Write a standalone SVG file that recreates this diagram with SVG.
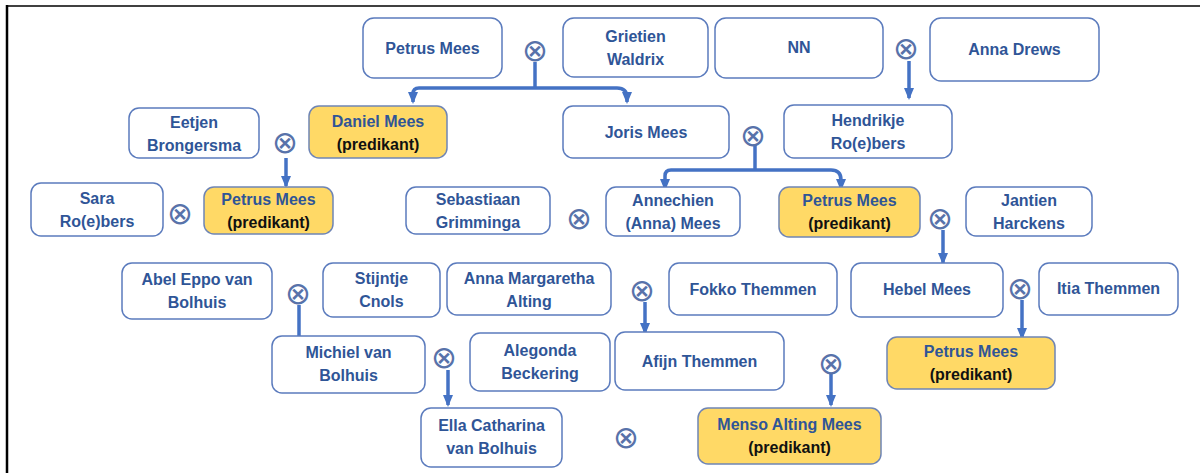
<svg xmlns="http://www.w3.org/2000/svg" width="1200" height="473" viewBox="0 0 1200 473">
<style>
.box{fill:#ffffff;stroke:#5b7bbd;stroke-width:1.5}
.yel{fill:#ffd966;stroke:#6f85b5;stroke-width:1.5}
.t{font-family:"Liberation Sans",Arial,sans-serif;font-weight:bold;font-size:16px;fill:#2f5597;text-anchor:middle;dominant-baseline:central}
.k{fill:#111111}
.x{font-family:"DejaVu Sans",sans-serif;font-weight:200;font-size:31px;fill:#5872aa;text-anchor:middle;dominant-baseline:central}
.c{fill:none;stroke:#4472c4;stroke-width:3.5}
</style>
<defs>
<marker id="ah" markerUnits="userSpaceOnUse" markerWidth="12" markerHeight="10" viewBox="0 0 12 10" refX="10" refY="5" orient="auto">
<path d="M0,0 L12,5 L0,10 z" fill="#4472c4"/>
</marker>
</defs>
<rect width="1200" height="473" fill="#ffffff"/>
<g id="frame">
<line x1="6" y1="6" x2="1200" y2="6" stroke="#000" stroke-width="1.5"/>
<line x1="7" y1="5" x2="7" y2="473" stroke="#000" stroke-width="2.5"/>
</g>
<g id="connectors">
<path class="c" d="M535,62 V88"/>
<path class="c" marker-end="url(#ah)" d="M535,88 H419 Q413,88 413,94 V102"/>
<path class="c" marker-end="url(#ah)" d="M535,88 H617 Q627,88 627,98 V102"/>
<path class="c" marker-end="url(#ah)" d="M909,61 V98"/>
<path class="c" marker-end="url(#ah)" d="M286,158 V186"/>
<path class="c" d="M755,144 V170"/>
<path class="c" marker-end="url(#ah)" d="M755,170 H671 Q665,170 665,176 V189"/>
<path class="c" marker-end="url(#ah)" d="M755,170 H831 Q841,170 841,180 V189"/>
<path class="c" marker-end="url(#ah)" d="M943,230 V263"/>
<path class="c" d="M299,305 V336"/>
<path class="c" marker-end="url(#ah)" d="M645,302 V333"/>
<path class="c" marker-end="url(#ah)" d="M1022,300 V338"/>
<path class="c" marker-end="url(#ah)" d="M448,370 V405"/>
<path class="c" marker-end="url(#ah)" d="M831,374 V405"/>
</g>
<g id="marriages">
<text class="x" x="535" y="50">⊗</text>
<text class="x" x="906" y="48">⊗</text>
<text class="x" x="285" y="142">⊗</text>
<text class="x" x="753" y="135">⊗</text>
<text class="x" x="180" y="213">⊗</text>
<text class="x" x="579" y="218">⊗</text>
<text class="x" x="940" y="218">⊗</text>
<text class="x" x="298" y="293">⊗</text>
<text class="x" x="642" y="290">⊗</text>
<text class="x" x="1020" y="288">⊗</text>
<text class="x" x="444" y="357">⊗</text>
<text class="x" x="831" y="363">⊗</text>
<text class="x" x="626" y="437">⊗</text>
</g>
<g id="petrus-mees-1"><rect class="box" x="363" y="18" width="139" height="60" rx="11"/><text class="t" x="432.5" y="48">Petrus Mees</text></g>
<g id="grietien-waldrix"><rect class="box" x="563" y="18" width="145" height="59" rx="11"/><text class="t" x="635.5" y="36">Grietien</text><text class="t" x="635.5" y="59">Waldrix</text></g>
<g id="nn"><rect class="box" x="715" y="18" width="168" height="60" rx="11"/><text class="t" x="799" y="47">NN</text></g>
<g id="anna-drews"><rect class="box" x="930" y="18" width="169" height="63" rx="11"/><text class="t" x="1014.5" y="49">Anna Drews</text></g>
<g id="daniel-mees"><rect class="yel" x="309" y="106" width="138" height="52" rx="10"/><text class="t" x="378" y="121">Daniel Mees</text><text class="t k" x="378" y="144">(predikant)</text></g>
<g id="eetjen-brongersma"><rect class="box" x="129" y="108" width="130" height="50" rx="10"/><text class="t" x="194" y="122">Eetjen</text><text class="t" x="194" y="145">Brongersma</text></g>
<g id="joris-mees"><rect class="box" x="563" y="106" width="166" height="52" rx="10"/><text class="t" x="646" y="132">Joris Mees</text></g>
<g id="hendrikje-roebers"><rect class="box" x="784" y="105" width="168" height="53" rx="10"/><text class="t" x="868" y="120">Hendrikje</text><text class="t" x="868" y="143">Ro(e)bers</text></g>
<g id="sara-roebers"><rect class="box" x="31" y="183" width="132" height="53" rx="10"/><text class="t" x="97" y="198">Sara</text><text class="t" x="97" y="221">Ro(e)bers</text></g>
<g id="petrus-mees-2"><rect class="yel" x="204" y="187" width="129" height="47" rx="10"/><text class="t" x="268.5" y="199">Petrus Mees</text><text class="t k" x="268.5" y="222">(predikant)</text></g>
<g id="sebastiaan-grimminga"><rect class="box" x="406" y="187" width="144" height="47" rx="10"/><text class="t" x="478" y="199">Sebastiaan</text><text class="t" x="478" y="222">Grimminga</text></g>
<g id="annechien-mees"><rect class="box" x="606" y="187" width="134" height="49" rx="10"/><text class="t" x="673" y="200">Annechien</text><text class="t" x="673" y="223">(Anna) Mees</text></g>
<g id="petrus-mees-3"><rect class="yel" x="779" y="187" width="141" height="50" rx="10"/><text class="t" x="849.5" y="200">Petrus Mees</text><text class="t k" x="849.5" y="223">(predikant)</text></g>
<g id="jantien-harckens"><rect class="box" x="966" y="187" width="126" height="49" rx="10"/><text class="t" x="1029" y="200">Jantien</text><text class="t" x="1029" y="223">Harckens</text></g>
<g id="abel-eppo-van-bolhuis"><rect class="box" x="122" y="263" width="150" height="56" rx="10"/><text class="t" x="197" y="279">Abel Eppo van</text><text class="t" x="197" y="302">Bolhuis</text></g>
<g id="stijntje-cnols"><rect class="box" x="323" y="263" width="117" height="54" rx="10"/><text class="t" x="381.5" y="278">Stijntje</text><text class="t" x="381.5" y="301">Cnols</text></g>
<g id="anna-margaretha-alting"><rect class="box" x="447" y="263" width="164" height="52" rx="10"/><text class="t" x="529" y="278">Anna Margaretha</text><text class="t" x="529" y="301">Alting</text></g>
<g id="fokko-themmen"><rect class="box" x="669" y="263" width="168" height="52" rx="10"/><text class="t" x="753" y="289">Fokko Themmen</text></g>
<g id="hebel-mees"><rect class="box" x="851" y="263" width="152" height="54" rx="10"/><text class="t" x="927" y="289">Hebel Mees</text></g>
<g id="itia-themmen"><rect class="box" x="1039" y="263" width="139" height="52" rx="10"/><text class="t" x="1108.5" y="288">Itia Themmen</text></g>
<g id="michiel-van-bolhuis"><rect class="box" x="272" y="336" width="153" height="57" rx="10"/><text class="t" x="348.5" y="352">Michiel van</text><text class="t" x="348.5" y="375">Bolhuis</text></g>
<g id="alegonda-beckering"><rect class="box" x="470" y="333" width="140" height="58" rx="10"/><text class="t" x="540" y="350">Alegonda</text><text class="t" x="540" y="373">Beckering</text></g>
<g id="afijn-themmen"><rect class="box" x="615" y="332" width="169" height="58" rx="10"/><text class="t" x="699.5" y="361">Afijn Themmen</text></g>
<g id="petrus-mees-4"><rect class="yel" x="887" y="337" width="168" height="52" rx="10"/><text class="t" x="971" y="351">Petrus Mees</text><text class="t k" x="971" y="374">(predikant)</text></g>
<g id="ella-catharina-van-bolhuis"><rect class="box" x="421" y="408" width="141" height="59" rx="10"/><text class="t" x="491.5" y="425">Ella Catharina</text><text class="t" x="491.5" y="448">van Bolhuis</text></g>
<g id="menso-alting-mees"><rect class="yel" x="698" y="408" width="183" height="56" rx="10"/><text class="t" x="789.5" y="424">Menso Alting Mees</text><text class="t k" x="789.5" y="447">(predikant)</text></g>
</svg>
